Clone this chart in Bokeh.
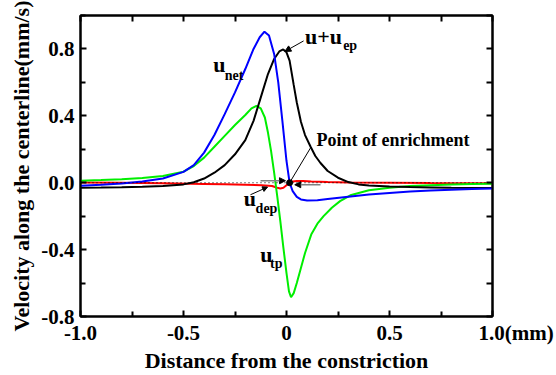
from bokeh.plotting import figure
from bokeh.models import FixedTicker, LinearAxis, Range1d, Label, Arrow, NormalHead, Span
from bokeh.embed import file_html
from bokeh.resources import INLINE

# ---------------- data ----------------
x_ticks = [-1, -0.5, 0, 0.5, 1]
x_tick_labels = ["-1.0", "-0.5", "0", "0.5", "1.0"]
x_unit = "(mm)"
x_minor = [-0.75, -0.25, 0.25, 0.75]
y_ticks = [-0.8, -0.4, 0, 0.4, 0.8]
y_tick_labels = ["-0.8", "-0.4", "0.0", "0.4", "0.8"]
y_minor = [-0.6, -0.2, 0.2, 0.6, 1.0]

net_x = [-1.0, -0.9, -0.8, -0.7, -0.6, -0.5, -0.45, -0.4, -0.35, -0.3, -0.25, -0.2, -0.16, -0.13,
         -0.107, -0.085, -0.06, -0.04, -0.02, 0.0, 0.015, 0.03, 0.05, 0.07, 0.1, 0.15, 0.2, 0.3,
         0.4, 0.5, 0.6, 0.7, 0.8, 0.9, 1.0]
net_y = [-0.018, -0.012, -0.004, 0.008, 0.025, 0.065, 0.105, 0.18, 0.285, 0.41, 0.54, 0.68, 0.80, 0.87,
         0.903, 0.88, 0.77, 0.60, 0.37, 0.13, 0.0, -0.05, -0.085, -0.1, -0.106, -0.105, -0.098, -0.084,
         -0.071, -0.061, -0.053, -0.047, -0.042, -0.038, -0.035]

tp_x = [-1.0, -0.9, -0.8, -0.7, -0.6, -0.5, -0.45, -0.4, -0.35, -0.3, -0.25, -0.2, -0.17, -0.146,
        -0.125, -0.105, -0.09, -0.075, -0.06, -0.045, -0.03, -0.015, 0.0, 0.012, 0.022, 0.035, 0.05,
        0.07, 0.09, 0.12, 0.15, 0.18, 0.22, 0.26, 0.31, 0.4, 0.5, 0.6, 0.7, 0.8, 0.9, 1.0]
tp_y = [0.012, 0.016, 0.021, 0.028, 0.04, 0.066, 0.1, 0.15, 0.215, 0.28, 0.345, 0.405, 0.445, 0.46,
        0.445, 0.39, 0.3, 0.19, 0.06, -0.08, -0.23, -0.39, -0.54, -0.65, -0.685, -0.66, -0.6,
        -0.51, -0.42, -0.31, -0.245, -0.2, -0.15, -0.11, -0.075, -0.045, -0.03, -0.02, -0.015, -0.011, -0.008, -0.006]

uep_x = [-1.0, -0.9, -0.8, -0.7, -0.6, -0.5, -0.45, -0.4, -0.35, -0.3, -0.25, -0.2, -0.16, -0.12,
         -0.09, -0.06, -0.035, -0.016, 0.0, 0.015, 0.035, 0.05, 0.07, 0.09, 0.117, 0.14, 0.165, 0.2,
         0.25, 0.3, 0.35, 0.4, 0.5, 0.6, 0.7, 0.8, 0.9, 1.0]
uep_y = [-0.03, -0.029, -0.027, -0.024, -0.02, -0.01, 0.003, 0.025, 0.06, 0.105, 0.17, 0.255, 0.37, 0.53,
         0.65, 0.74, 0.785, 0.797, 0.78, 0.73, 0.585, 0.48, 0.365, 0.285, 0.215, 0.16, 0.118, 0.07,
         0.03, 0.004, -0.01, -0.016, -0.022, -0.026, -0.028, -0.03, -0.031, -0.032]

dep_x = [-1.0, -0.8, -0.6, -0.4, -0.3, -0.2, -0.12, -0.07, -0.045, -0.03, -0.015, 0.0, 0.015, 0.03,
         0.05, 0.08, 0.12, 0.2, 0.3, 0.5, 0.7, 1.0]
dep_y = [0.002, 0.0, -0.003, -0.007, -0.009, -0.012, -0.015, -0.02, -0.03, -0.034, -0.03, -0.015, 0.0, 0.008,
         0.011, 0.01, 0.008, 0.005, 0.002, 0.0, -0.002, -0.003]

enrich_x = [0.015]
enrich_y = [0.0]

# ---------------- figure ----------------
FONT = "Liberation Serif"

p = figure(width=556, height=375, x_range=Range1d(-1, 1), y_range=Range1d(-0.8, 1.0),
           output_backend="svg", toolbar_location=None,
           min_border_left=80, min_border_right=64, min_border_top=15, min_border_bottom=57)
p.grid.visible = False
p.outline_line_color = "black"
p.outline_line_width = 2
p.background_fill_color = "white"
p.border_fill_color = "white"

def style_axis(ax, ticker):
    ax.ticker = ticker
    ax.axis_line_width = 2
    ax.major_tick_line_width = 2
    ax.minor_tick_line_width = 2
    ax.major_tick_in = 6
    ax.major_tick_out = 0
    ax.minor_tick_in = 5
    ax.minor_tick_out = 0
    ax.major_label_text_font = FONT
    ax.major_label_text_font_style = "bold"
    ax.major_label_text_color = "black"
    ax.major_label_text_font_size = "21px"
    ax.axis_label_text_font = FONT
    ax.axis_label_text_font_style = "bold"
    ax.axis_label_text_font_size = "22px"
    ax.axis_label_text_color = "black"

# labels: last x label carries the unit; pad with no-break spaces so "1.0" stays centred on its tick
pad = "\u00a0" * 9
xlab = list(x_tick_labels)
xlab[-1] = pad + xlab[-1] + x_unit

style_axis(p.xaxis[0], FixedTicker(ticks=x_ticks, minor_ticks=x_minor))
style_axis(p.yaxis[0], FixedTicker(ticks=y_ticks, minor_ticks=y_minor))
p.xaxis[0].major_label_overrides = {t: l for t, l in zip(x_ticks, xlab)}
p.yaxis[0].major_label_overrides = {t: l for t, l in zip(y_ticks, y_tick_labels)}
p.xaxis[0].axis_label = "Distance from the constriction"
p.yaxis[0].axis_label = "Velocity along the centerline(mm/s)"
p.xaxis[0].major_label_standoff = 4
p.yaxis[0].major_label_standoff = 6
p.xaxis[0].axis_label_standoff = 0
p.yaxis[0].axis_label_standoff = 4

# mirrored axes: tick marks only (no major ticks -> no labels)
top = LinearAxis()
style_axis(top, FixedTicker(ticks=[], minor_ticks=sorted(x_ticks + x_minor)))
top.minor_tick_in = 6
p.add_layout(top, "above")
right = LinearAxis()
style_axis(right, FixedTicker(ticks=[], minor_ticks=sorted(y_ticks + y_minor)))
right.minor_tick_in = 6
p.add_layout(right, "right")

# zero reference line (dotted)
p.add_layout(Span(location=0, dimension="width", line_color="black", line_dash="1 3", line_width=1))

# curves
p.line(dep_x, dep_y, line_color="#ff0000", line_width=2)
p.line(tp_x, tp_y, line_color="#00ee00", line_width=2)
p.line(uep_x, uep_y, line_color="black", line_width=2)
p.line(net_x, net_y, line_color="#0000ff", line_width=2)

p.scatter(enrich_x, enrich_y, size=6, color="black")

def lab(x, y, text, size):
    p.add_layout(Label(x=x, y=y, text=text, text_font=FONT, text_font_style="bold",
                       text_font_size=size, text_baseline="middle", text_align="left",
                       text_color="black"))

# u_net
lab(-0.355, 0.705, "u", "22px")
lab(-0.300, 0.640, "net", "14px")
# u+u_ep
lab(0.090, 0.872, "u+u", "22px")
lab(0.275, 0.818, "ep", "14px")
p.add_layout(Arrow(end=NormalHead(size=6, fill_color="black", line_color="black"),
                   x_start=0.083, y_start=0.848, x_end=-0.008, y_end=0.785,
                   line_color="black", line_width=1))
# point of enrichment
lab(0.146, 0.257, "Point of enrichment", "18px")
p.segment(x0=[0.117], y0=[0.209], x1=[0.018], y1=[0.006], line_color="black", line_width=1)
p.add_layout(Arrow(end=NormalHead(size=6, fill_color="black", line_color="black"),
                   x_start=-0.126, y_start=0.012, x_end=-0.005, y_end=0.012,
                   line_color="gray", line_width=1.5))
p.add_layout(Arrow(end=NormalHead(size=6, fill_color="black", line_color="black"),
                   x_start=0.165, y_start=-0.012, x_end=0.04, y_end=-0.012,
                   line_color="gray", line_width=1.5))
# u_dep
lab(-0.207, -0.096, "u", "22px")
lab(-0.150, -0.155, "dep", "14px")
p.add_layout(Arrow(end=NormalHead(size=5, fill_color="black", line_color="black"),
                   x_start=-0.175, y_start=-0.072, x_end=-0.092, y_end=-0.026,
                   line_color="black", line_width=1))
# u_tp
lab(-0.128, -0.43, "u", "22px")
lab(-0.080, -0.484, "tp", "14px")

open("out.html", "w").write(file_html(p, INLINE))
